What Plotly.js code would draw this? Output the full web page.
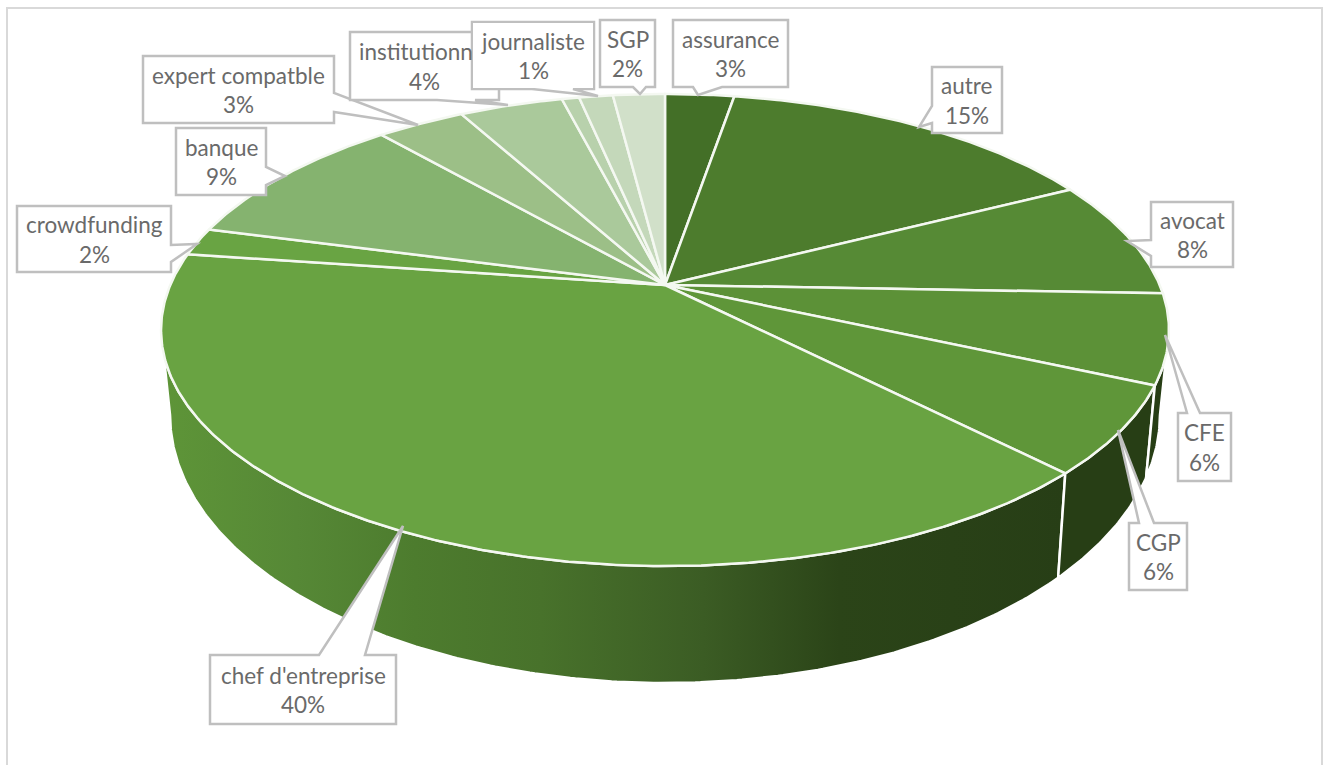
<!DOCTYPE html>
<html>
<head>
<meta charset="utf-8">
<script src="https://cdn.plot.ly/plotly-3.0.1.min.js"></script>
<style>html,body{margin:0;padding:0;background:#fff}#chart{width:1324px;height:765px}</style>
</head>
<body>
<div id="chart"></div>
<script>
// ---- data ----
var categories = ["assurance","autre","avocat","CFE","CGP","chef d'entreprise","crowdfunding","banque","expert compatble","institutionnel","","journaliste","SGP"];
var shares = [2.66,14.8,8.1,6.1,6.0,39.5,1.9,9.5,3.4,4.0,0.67,1.3,2.0];
var percentLabels = ["3%","15%","8%","6%","6%","40%","2%","9%","3%","4%","","1%","2%"];

// ---- styles ----
var faceColors = ["#436f27","#4d7c2d","#568a35","#5c9137","#5f9639","#69a342","#69a443","#85b36f","#9cbf87","#aac99b","#b8d1ac","#c4d8ba","#d1e0c9"];
var sideDark = "#273e15";
var chefSideScale = [[0,"#5e9538"],[0.15,"#568836"],[0.28,"#4d7c2e"],[0.42,"#48722b"],[0.6,"#3b5c24"],[0.75,"#2b4418"],[1,"#273e16"]];
var textColor = "#6a6a6a", boxLine = "#bfbfbf", frameLine = "#d9d9d9";
var labelFont = "Lato";

// ---- projection of the tilted disc ----
var cx = 665, apexY = 285, tilt = -0.19068, ay = 173.07, ax = 494.7;
function rim(theta){ // theta in degrees, clockwise from 12 o'clock
  var t = theta*Math.PI/180, u = Math.sin(t), v = -Math.cos(t), d = 1 + tilt*v;
  return [cx + ax*u/d, (ay*v + apexY)/d];
}
function lower(p){ return [cx + (p[0]-cx)*495/504, 415 + (p[1]-330)*268/236]; }
function arc(a,b){ var pts=[], n=Math.max(2,Math.ceil(Math.abs(b-a)/0.5)); for(var i=0;i<=n;i++) pts.push(rim(a+(b-a)*i/n)); return pts; }

var total = shares.reduce(function(s,v){return s+v;},0), edges=[0];
shares.forEach(function(v){ edges.push(edges[edges.length-1]+v/total*360); });

var traces = [];
function wall(a,b,fill){
  var top = arc(a,b), low = top.slice().reverse().map(lower), all = top.concat(low); all.push(top[0]);
  var tr = {type:"scatter",mode:"lines",x:all.map(function(p){return p[0];}),y:all.map(function(p){return p[1];}),fill:"toself",
    line:{color:"#ffffff",width:2.5},hoverinfo:"skip",showlegend:false};
  if(fill.grad){ tr.fillgradient={type:"horizontal",colorscale:fill.grad}; tr.fillcolor=fill.base; }
  else tr.fillcolor=fill.base;
  traces.push(tr);
}
var idxCFE=3, idxCGP=4, idxChef=5;
wall(edges[idxChef],259,{grad:chefSideScale,base:"#4a772b"});
wall(edges[idxCGP],edges[idxCGP+1],{base:sideDark});
wall(101,edges[idxCFE+1],{base:sideDark});
categories.forEach(function(name,i){
  var pts = [[cx,apexY]].concat(arc(edges[i],edges[i+1])); pts.push([cx,apexY]);
  traces.push({type:"scatter",mode:"lines",name:name,x:pts.map(function(p){return p[0];}),y:pts.map(function(p){return p[1];}),
    fill:"toself",fillcolor:faceColors[i],line:{color:"#f4f8f1",width:2.5},hoveron:"fills",
    text:name,hoverinfo:"text",showlegend:false});
});

// ---- callouts: [category index, box x0,y0,x1,y1, pointer side, a, tipX, tipY, b] ----
var callouts = [
 [0,673,20,788,87,"b",693,698,95,722],
 [1,932,67,1002,133,"l",106,919,127,123],
 [2,1151,202,1233,267,"l",240,1127,241,256],
 [3,1178,413,1231,481,"t",1187,1165,335,1200],
 [4,1129,523,1187,590,"t",1139,1118,430,1154],
 [5,210,655,396,724,"t",319,403,526,365],
 [6,17,206,171,272,"r",245,197,244,262],
 [7,176,128,266,195,"r",167,285,176,185],
 [8,143,56,334,123,"r",93,418,125,112],
 [9,350,32,499,100,"b",437,508,105,475],
 [11,472,22,594,89,"b",532,598,96,573],
 [12,600,20,655,87,"b",633,640,94,646]
];
function calloutPath(c){
  var x0=c[1],y0=c[2],x1=c[3],y1=c[4],s=c[5],a=c[6],tx=c[7],ty=c[8],b=c[9],p=[[x0,y0]];
  if(s==="t") p.push([a,y0],[tx,ty],[b,y0]);
  p.push([x1,y0]);
  if(s==="r") p.push([x1,a],[tx,ty],[x1,b]);
  p.push([x1,y1]);
  if(s==="b") p.push([b,y1],[tx,ty],[a,y1]);
  p.push([x0,y1]);
  if(s==="l") p.push([x0,b],[tx,ty],[x0,a]);
  return "M"+p.map(function(q){return q[0]+","+q[1];}).join(" L")+" Z";
}
var shapes = [{type:"rect",xref:"x",yref:"y",x0:7,y0:8,x1:1322,y1:772,line:{color:frameLine,width:2},fillcolor:"rgba(0,0,0,0)",layer:"below"}];
var annotations = [];
function note(text,x,y){
  return {xref:"x",yref:"y",x:x,y:y,text:text,showarrow:false,xanchor:"center",yanchor:"middle",
    font:{family:labelFont,size:22.5,color:textColor}};
}
callouts.forEach(function(c){
  var i=c[0], mx=(c[1]+c[3])/2, my=(c[2]+c[4])/2;
  shapes.push({type:"path",path:calloutPath(c),xref:"x",yref:"y",line:{color:boxLine,width:2.5},fillcolor:"#ffffff",layer:"above"});
  if(categories[i]==="journaliste"){
    var cover=note(" ",mx,my); cover.bgcolor="#ffffff"; cover.width=c[3]-c[1]-2; cover.height=c[4]-c[2]-2; cover.borderpad=0; cover.borderwidth=0;
    annotations.push(cover);
  }
  annotations.push(note(categories[i],mx,my-14.5));
  annotations.push(note(percentLabels[i],mx,my+15));
});

Plotly.newPlot("chart",traces,{
  width:1324,height:765,margin:{l:0,r:0,t:0,b:0},paper_bgcolor:"#ffffff",plot_bgcolor:"#ffffff",showlegend:false,
  xaxis:{range:[0,1324],visible:false,fixedrange:true},
  yaxis:{range:[765,0],visible:false,fixedrange:true},
  shapes:shapes,annotations:annotations
},{displayModeBar:false});
</script>
</body>
</html>
